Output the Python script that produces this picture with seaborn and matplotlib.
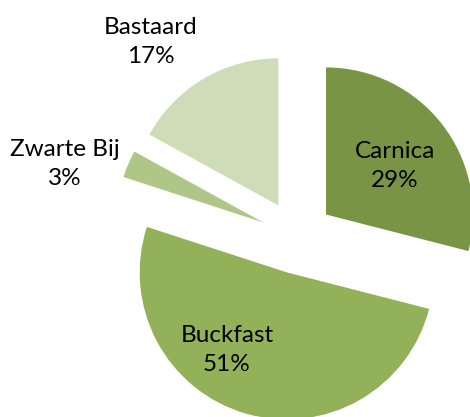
import matplotlib
matplotlib.use("Agg")
import matplotlib.pyplot as plt
import seaborn as sns

# data
breeds = ["Carnica", "Buckfast", "Zwarte Bij", "Bastaard"]
shares = [29, 51, 3, 17]
colors = ["#7A9445", "#93B159", "#AEC787", "#CEDCB8"]

# layout: label centres in pie-radius units
label_xy = [(0.667, 0.483), (-0.476, -0.769), (-1.578, 0.497), (-0.993, 1.327)]

sns.set_theme(style="white")
plt.rcParams["font.family"] = ["Lato", "DejaVu Sans"]

fig = plt.figure(figsize=(4.70, 4.17), dpi=100)
ax = fig.add_axes([0, 0, 1, 1])

ax.pie(shares, colors=colors, startangle=90, counterclock=False,
       explode=[0.25] * len(shares), radius=1.0,
       wedgeprops=dict(linewidth=0))

total = sum(shares)
for name, val, (lx, ly) in zip(breeds, shares, label_xy):
    ax.text(lx, ly, f"{name}\n{round(100 * val / total)}%", ha="center", va="center",
            fontsize=17.5, color="#000000", linespacing=1.45)

ax.set_xlim(-2.020, 1.177)
ax.set_ylim(-1.224, 1.612)
ax.set_aspect("auto")
ax.axis("off")

fig.savefig("out.png", dpi=100, facecolor="white")
